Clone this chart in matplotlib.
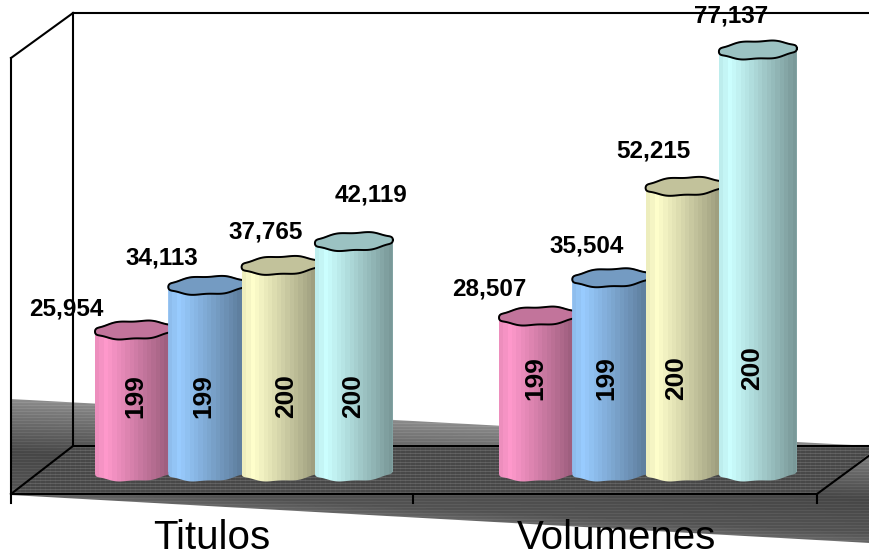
import numpy as np
import matplotlib
matplotlib.use('Agg')
import matplotlib.pyplot as plt
from matplotlib.colors import to_rgb
from matplotlib.patches import Polygon

plt.rcParams['font.family'] = ['Liberation Sans', 'DejaVu Sans']

categories = ['Titulos', 'Volumenes']
inner_labels = ['199', '199', '200', '200']
titulos = [25954, 34113, 37765, 42119]
volumenes = [28507, 35504, 52215, 77137]
series = [titulos, volumenes]
colors = ['#FF99CC', '#99CCFF', '#FFFFCC', '#CCFFFF']

# layout, in pixels of the 870x554 picture
W, H = 870, 554
BASE_PX = 472
PX_PER_UNIT = 422 / 77137
group_left = [95, 499]
step = 73.3
bar_w = 78
label_off = [[(-68, -21), (-45, -27), (-15, -33), (17, -47)],
             [(-49, -27), (-25, -32), (-31, -35), (-27, -34)]]
inner_pos = [[(135, 396), (203, 396), (286, 396), (353, 396)],
             [(535, 378), (606, 378), (676, 378), (752, 368)]]

fig = plt.figure(figsize=(W / 100, H / 100), dpi=100)
bg = fig.add_axes([0, 0, 1, 1])
bg.set_xlim(0, W)
bg.set_ylim(H, 0)
bg.axis('off')

# gray slanted band behind the box
yy, xx = np.mgrid[0:H, 0:W]
top = 399 + (xx - 11) * 47 / 859
bottom = 495 + (xx - 11) * 48 / 859
t = (yy - top) / (bottom - top)
gray = np.interp(t, [0, 0.1, 0.55, 0.9, 1], [0.56, 0.5, 0.29, 0.34, 0.42])
gray = gray + 0.03 * np.where(yy % 3 == 0, 1, -0.5)
im = bg.imshow(gray, cmap='gray', vmin=0, vmax=1, extent=(0, W, H, 0),
               aspect='auto', interpolation='nearest', zorder=1)
band = Polygon([(11, 399), (870, 446), (870, 543), (11, 495)], closed=True,
               transform=bg.transData, fc='none', ec='none')
bg.add_patch(band)
im.set_clip_path(band)

# floor of the box
floor_gray = 0.33 + 0.045 * np.where(yy % 3 == 0, 1, -1) + 0.02 * np.where(xx % 5 == 0, 1, 0)
fl = bg.imshow(floor_gray, cmap='gray', vmin=0, vmax=1, extent=(0, W, H, 0),
               aspect='auto', interpolation='nearest', zorder=2)
floor = Polygon([(73, 446), (870, 446), (870, 453), (817, 494), (11, 494)], closed=True,
                transform=bg.transData, fc='none', ec='none')
bg.add_patch(floor)
fl.set_clip_path(floor)

# frame lines
frame = [([73, 870], [13, 13]), ([11, 73], [58, 13]), ([73, 73], [13, 446]),
         ([11, 11], [58, 503]), ([11, 73], [494, 446]), ([73, 870], [446, 446]),
         ([11, 817], [494, 494]), ([817, 870], [494, 455]),
         ([413, 413], [494, 503]), ([817, 817], [494, 503])]
for fx, fy in frame:
    bg.plot(fx, fy, color='black', lw=1.5, zorder=3, solid_capstyle='projecting')
bg.set_xlim(0, W)
bg.set_ylim(H, 0)

# bars live on an axes whose y scale is the real value
ax = fig.add_axes([0, 0, 1, 1], facecolor='none')
ax.axis('off')
ylim = ((BASE_PX - H) / PX_PER_UNIT, BASE_PX / PX_PER_UNIT)
ax.set_xlim(0, W)
ax.set_ylim(*ylim)

theta = np.linspace(0, 2 * np.pi, 121)
ry = 9 / PX_PER_UNIT
tilt = 1.6 / PX_PER_UNIT


def rim(cx, level, a=theta):
    # slightly tilted, wobbly ellipse like the old office chart
    ex = cx + (bar_w / 2) * np.cos(a)
    ey = level + ry * np.sin(a) + tilt * np.cos(a) + 0.6 / PX_PER_UNIT * np.sin(7 * a)
    return ex, ey


for g, values in enumerate(series):
    for i, v in enumerate(values):
        x0 = group_left[g] + step * i
        cx = x0 + bar_w / 2
        z = 10 + i * 3 + g * 20
        rgb = np.array(to_rgb(colors[i]))
        bars = ax.bar(cx, v, width=bar_w, color=colors[i], linewidth=0, zorder=z)

        # banded shading, the highlight sits near the left edge
        bands = np.linspace(0, 1, 18)
        shade = np.interp(bands, [0, 0.12, 1], [0.93, 1.0, 0.6])
        img = (shade[None, :, None] * rgb[None, None, :]).clip(0, 1)
        gr = ax.imshow(img, extent=(x0, x0 + bar_w, -2 * ry, v + 2 * ry), aspect='auto',
                       interpolation='nearest', zorder=z + 0.5)
        bx, by = rim(cx, 0, np.linspace(np.pi, 2 * np.pi, 61))
        tx, ty = rim(cx, v, np.linspace(0, np.pi, 61))
        body = Polygon(np.column_stack([np.r_[bx, tx], np.r_[by, ty]]), closed=True,
                       transform=ax.transData, fc='none', ec='none')
        ax.add_patch(body)
        gr.set_clip_path(body)
        bars[0].set_clip_path(body)

        ex, ey = rim(cx, v)
        ax.fill(ex, ey, color=rgb * 0.76, zorder=z + 1)
        ax.plot(ex, ey, color='black', lw=1.4, zorder=z + 1.5)

        dx, dy = label_off[g][i]
        ax.annotate(f'{v:,}', (cx, v), xytext=(dx, -dy), textcoords='offset pixels',
                    ha='center', va='center', fontsize=17.5, fontweight='bold', zorder=60)
        px, py = inner_pos[g][i]
        ax.text(px, (BASE_PX - py) / PX_PER_UNIT, inner_labels[i], rotation=90,
                ha='center', va='center', fontsize=19, fontweight='bold', zorder=z + 2)

ax.set_xlim(0, W)
ax.set_ylim(*ylim)

for name, px in zip(categories, [212, 617]):
    ax.text(px, (BASE_PX - 549) / PX_PER_UNIT, name, ha='center', va='baseline',
            fontsize=29, zorder=60)

fig.savefig('out.png', dpi=100)
